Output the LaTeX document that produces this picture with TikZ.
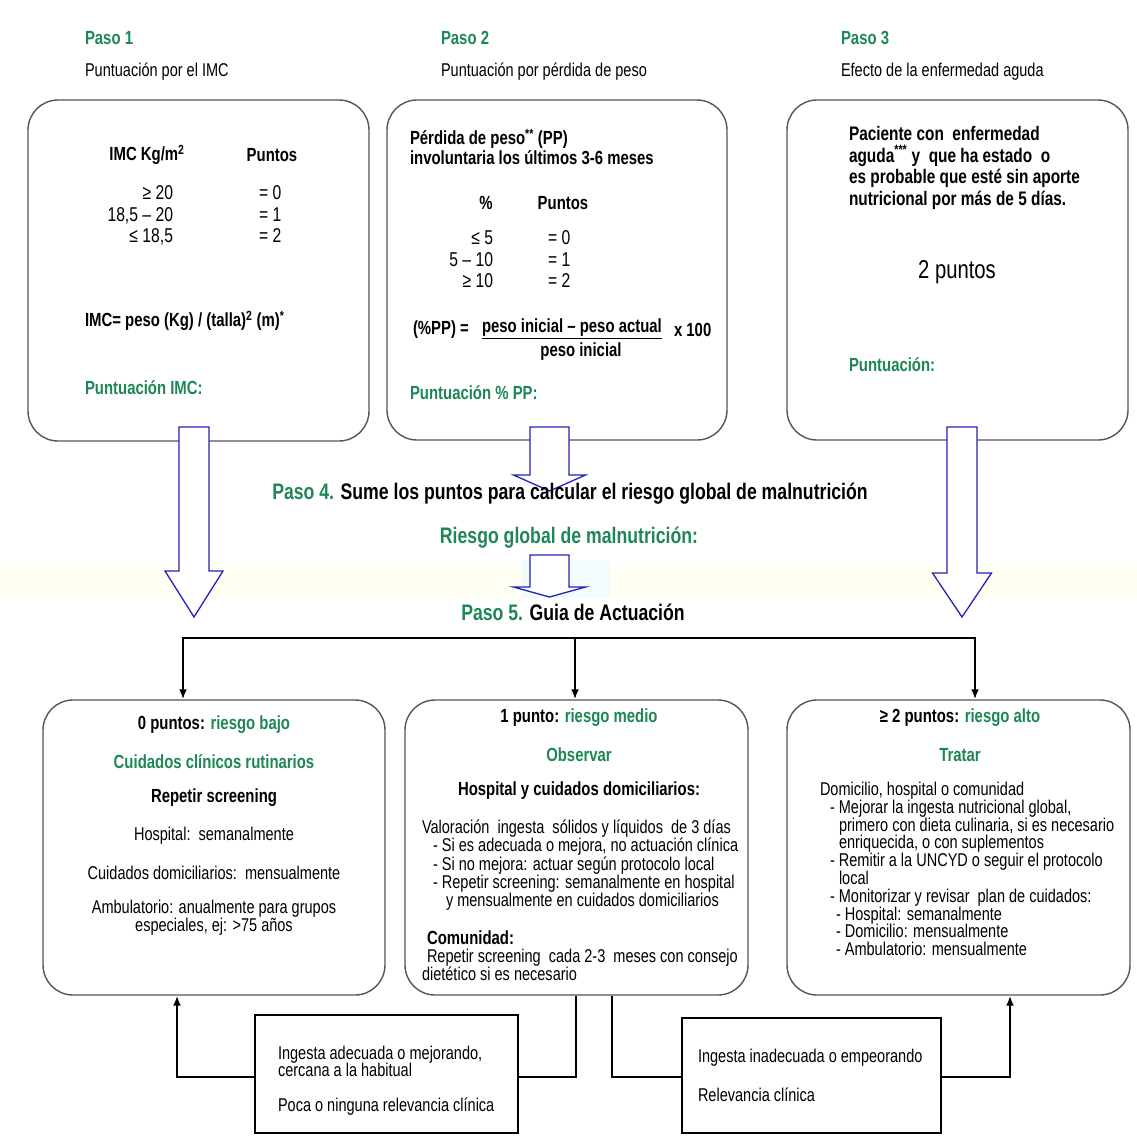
\documentclass[tikz,border=0pt]{standalone}
\usepackage{fontspec}
\setmainfont[FakeStretch=0.785]{Liberation Sans}
\usetikzlibrary{arrows.meta}
\definecolor{grn}{RGB}{30,135,85}
\definecolor{abl}{RGB}{35,35,185}
\definecolor{bord}{RGB}{85,85,85}
\newcommand\myharrow[6]{%
  \draw[harr] (#1-#5,#2) -- (#1-#5,#3) -- (#1-#6,#3) -- (#1,#4) -- (#1+#6,#3) -- (#1+#5,#3) -- (#1+#5,#2) -- cycle;}
\tikzset{
  base/.style={inner sep=0pt, outer sep=0pt},
  t/.style={base, font=\fontsize{18.5}{18.3}\selectfont},
  tb/.style={base, font=\bfseries\fontsize{19}{20}\selectfont},
  tg/.style={tb, text=grn},
  num/.style={base, font=\fontsize{20}{21.5}\selectfont},
  mid/.style={base, font=\bfseries\fontsize{22.5}{24}\selectfont},
  rbox/.style={draw=bord, line width=1.4pt, rounded corners=30pt, fill=white},
  sbox/.style={draw=black, line width=1.8pt, fill=white},
  conn/.style={line width=2.6pt, black},
  arr/.style={conn, -{Latex[length=10pt,width=8pt]}},
  harr/.style={draw=abl, line width=1.3pt, fill=white, line join=miter},
}
\begin{document}
\begin{tikzpicture}[x=1pt,y=-1pt]
\useasboundingbox (0,0) rectangle (1137,1135);
% faint watermark band
\fill[yellow!5] (0,565) rectangle (1137,598);
\fill[cyan!5] (522,560) rectangle (610,598);

% ---------- titles ----------
\node[tg, anchor=west] (p1) at (85,38) {Paso 1};
\node[t, anchor=west] (p1s) at (85,72) {Puntuación por el IMC};
\node[tg, anchor=west] (p2) at (441,38) {Paso 2};
\node[t, anchor=west] (p2s) at (441,72) {Puntuación por pérdida de peso};
\node[tg, anchor=west] (p3) at (841,38) {Paso 3};
\node[t, anchor=west] (p3s) at (841,72) {Efecto de la enfermedad aguda};

% ---------- top boxes ----------
\node[rbox, minimum width=341pt, minimum height=341pt] (b1) at (198.5,270.5) {};
\node[rbox, minimum width=340pt, minimum height=340pt] (b2) at (557,270) {};
\node[rbox, minimum width=341pt, minimum height=340pt] (b3) at (957.5,270) {};

% box 1
\node[tb] (imc) at (147,155) {IMC Kg/m\textsuperscript{2}};
\node[tb] (pt1) at (272,155) {Puntos};
\node[num, anchor=north east, align=right] (r1) at (173,186) {≥ 20\\18,5 – 20\\≤ 18,5};
\node[num, anchor=north west, align=left] (q1) at (259,186) {= 0\\= 1\\= 2};
\node[tb, anchor=west] (f1) at (85,321) {IMC= peso (Kg) / (talla)\textsuperscript{2} (m)\textsuperscript{*}};
\node[tg, anchor=west] (g1) at (85,388) {Puntuación IMC:};

% box 2
\node[tb, anchor=north west, align=left] (pp) at (410,129) {Pérdida de peso\textsuperscript{**} (PP)\\involuntaria los últimos 3-6 meses};
\node[tb] (pc) at (486,203) {\%};
\node[tb] (pt2) at (563,203) {Puntos};
\node[num, anchor=north east, align=right] (r2) at (493,231) {≤ 5\\5 – 10\\≥ 10};
\node[num, anchor=north west, align=left] (q2) at (548,231) {= 0\\= 1\\= 2};
\node[tb, anchor=west] (f2a) at (413,330) {(\%PP) =};
\node[tb, anchor=west] (f2b) at (482,329) {\underline{peso inicial – peso actual}};
\node[tb, anchor=west] (f2c) at (674,330) {x 100};
\node[tb] (f2d) at (581,352) {peso inicial};
\node[tg, anchor=west] (g2) at (410,393) {Puntuación \% PP:};

% box 3
\node[base, anchor=north west, align=left, font=\bfseries\fontsize{19.6}{21.8}\selectfont] (pa) at (849,126)
  {Paciente con\ \ enfermedad\\aguda\textsuperscript{***} y\ \ que ha estado\ \ o\\es probable que esté sin aporte\\nutricional por más de 5 días.};
\node[base, font=\fontsize{25.8}{28}\selectfont] (dos) at (957,272) {2 puntos};
\node[tg, anchor=west] (g3) at (849,365) {Puntuación:};

% ---------- hollow arrows ----------
\myharrow{194}{427}{571}{617}{15}{29}
\myharrow{549.5}{427}{475}{491}{19.5}{36}
\myharrow{549.5}{555}{587}{597}{19.5}{36}
\myharrow{962}{427}{573}{617}{15}{29.5}

% ---------- middle texts ----------
\node[mid] (p4) at (570,494)
  {\textcolor{grn}{Paso 4.} Sume los puntos para calcular el riesgo global de malnutrición};
\node[mid, text=grn] (rg) at (569,538) {Riesgo global de malnutrición:};
\node[mid] (p5) at (573,612) {\textcolor{grn}{Paso 5.} Guia de Actuación};

% ---------- bottom boxes ----------
\node[rbox, minimum width=342pt, minimum height=295pt] (bL) at (214,847.5) {};
\node[rbox, minimum width=343pt, minimum height=295pt] (bM) at (576.5,847.5) {};
\node[rbox, minimum width=343pt, minimum height=295pt] (bR) at (958.5,847.5) {};

% bus
\coordinate (jL) at (183,638);
\coordinate (jM) at (575,638);
\coordinate (jR) at (975,638);
\draw[arr] (jR) -- (jL) -- (jL |- bL.north);
\draw[arr] (jL) -- (jR) -- (jR |- bR.north);
\draw[arr] (jM) -- (jM |- bM.north);

% box L
\node[tb] (l1) at (214,725) {0 puntos: \textcolor{grn}{riesgo bajo}};
\node[tg] (l2) at (214,762) {Cuidados clínicos rutinarios};
\node[tb] (l3) at (214,798) {Repetir screening};
\node[t] (l4) at (214,836) {Hospital:\ \ semanalmente};
\node[t] (l5) at (214,873) {Cuidados domiciliarios:\ \ mensualmente};
\node[t, align=center] (l6) at (214,918) {Ambulatorio: anualmente para grupos\\especiales, ej: >75 años};

% box M
\node[tb] (m1t) at (579,718) {1 punto: \textcolor{grn}{riesgo medio}};
\node[tg] (m2t) at (579,755) {Observar};
\node[tb] (m3t) at (579,791) {Hospital y cuidados domiciliarios:};
\node[t, anchor=north west, align=left] (m4t) at (422,820)
  {Valoración\ \ ingesta\ \ sólidos y líquidos\ \ de 3 días\\
   \hspace*{11pt}- Si es adecuada o mejora, no actuación clínica\\
   \hspace*{11pt}- Si no mejora: actuar según protocolo local\\
   \hspace*{11pt}- Repetir screening: semanalmente en hospital\\
   \hspace*{24pt}y mensualmente en cuidados domiciliarios};
\node[tb, anchor=west] (m5t) at (427,938) {Comunidad:};
\node[t, anchor=north west, align=left] (m6t) at (422,949)
  {\hspace*{5pt}Repetir screening\ \ cada 2-3\ \ meses con consejo\\dietético si es necesario};

% box R
\node[tb] (r1t) at (960,718) {≥ 2 puntos: \textcolor{grn}{riesgo alto}};
\node[tg] (r2t) at (960,755) {Tratar};
\node[t, anchor=north west, align=left, font=\fontsize{18.5}{17.8}\selectfont] (r3t) at (820,782)
  {Domicilio, hospital o comunidad\\
   \hspace*{10pt}- Mejorar la ingesta nutricional global,\\
   \hspace*{19pt}primero con dieta culinaria, si es necesario\\
   \hspace*{19pt}enriquecida, o con suplementos\\
   \hspace*{10pt}- Remitir a la UNCYD o seguir el protocolo\\
   \hspace*{19pt}local\\
   \hspace*{10pt}- Monitorizar y revisar\ \ plan de cuidados:\\
   \hspace*{16pt}- Hospital: semanalmente\\
   \hspace*{16pt}- Domicilio: mensualmente\\
   \hspace*{16pt}- Ambulatorio: mensualmente};

% ---------- small boxes ----------
\node[sbox, minimum width=263pt, minimum height=118pt] (sL) at (386.5,1074) {};
\node[sbox, minimum width=259pt, minimum height=115pt] (sR) at (811.5,1075.5) {};
\node[t, anchor=north west, align=left, font=\fontsize{18.5}{17.5}\selectfont] (sl1) at (278,1046) {Ingesta adecuada o mejorando,\\cercana a la habitual};
\node[t, anchor=west] (sl2) at (278,1107) {Poca o ninguna relevancia clínica};
\node[t, anchor=west] (sr1) at (698,1058) {Ingesta inadecuada o empeorando};
\node[t, anchor=west] (sr2) at (698,1095) {Relevancia clínica};

% bottom connectors
\coordinate (cL) at (177,1077);
\coordinate (k1) at (576,1077);
\coordinate (k2) at (612,1077);
\coordinate (cR) at (1010,1077);
\draw[arr] (sL.west |- cL) -- (cL) -- (cL |- bL.south);
\draw[conn] (sL.east |- k1) -- (k1) -- (k1 |- bM.south);
\draw[conn] (k2 |- bM.south) -- (k2) -- (sR.west |- k2);
\draw[arr] (sR.east |- cR) -- (cR) -- (cR |- bR.south);
\end{tikzpicture}
\end{document}
